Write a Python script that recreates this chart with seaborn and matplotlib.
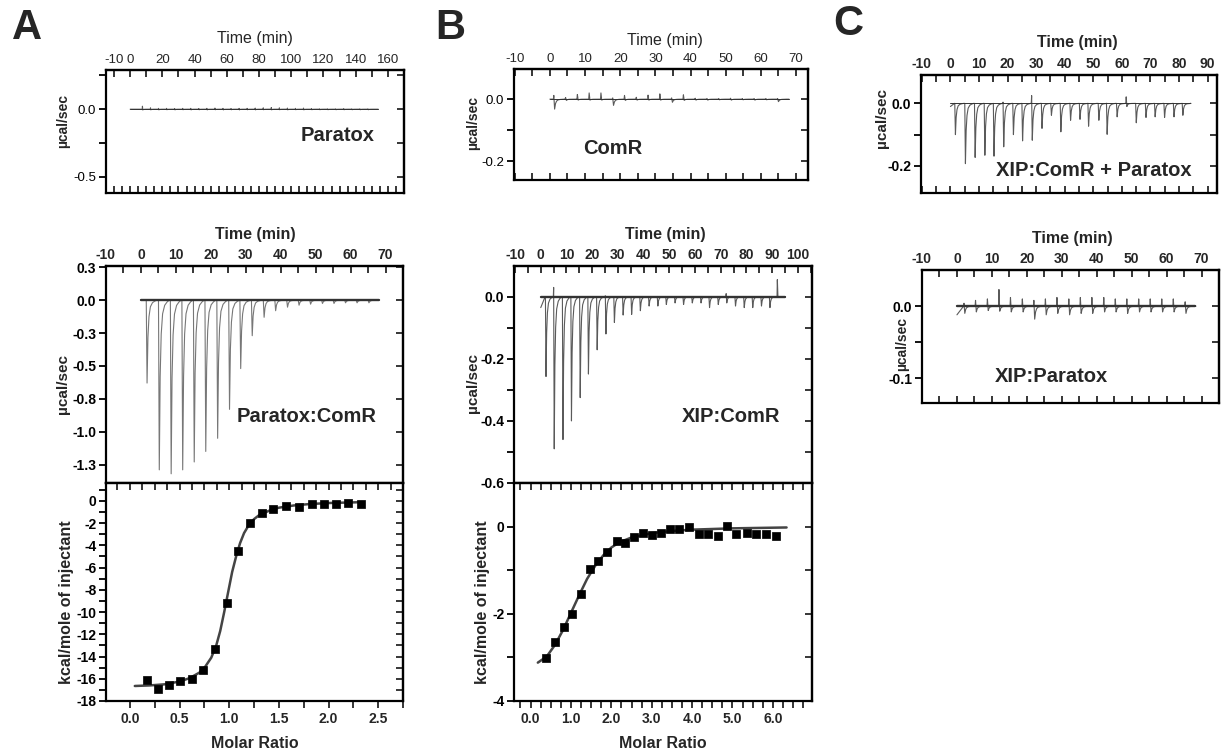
import numpy as np
import pandas as pd
import seaborn as sns
import matplotlib
matplotlib.use("Agg")
import matplotlib.pyplot as plt
from matplotlib.ticker import MultipleLocator, FixedLocator

sns.set_theme(style="ticks")
plt.rcParams["font.family"] = ["Liberation Sans", "DejaVu Sans"]

# ---------------- data ----------------
# Panel A, top: Paratox titrated into buffer (ucal/sec)
paratox_t = [7.5, 12.5, 17.5, 22.5, 27.5, 32.5, 37.5, 42.5, 47.5, 52.5, 57.5, 62.5, 67.5, 72.5, 77.5,
             82.5, 87.5, 92.5, 97.5, 102.5, 107.5, 112.5, 117.5, 122.5, 127.5, 132.5, 137.5, 142.5, 147.5]
paratox_up = [0.022, 0.01, 0.006, 0.006, 0.005, 0.006, 0.006, 0.005, 0.006, 0.008, 0.006, 0.005, 0.006, 0.006,
              0.008, 0.01, 0.012, 0.01, 0.008, 0.006, 0.008, 0.004, 0.003, 0.003, 0.003, 0.004, 0.003, 0.003, 0.003]
paratox_dn = [-0.006, -0.005, -0.005, -0.004, -0.005, -0.004, -0.005, -0.004, -0.005, -0.004, -0.005, -0.004,
              -0.005, -0.004, -0.005, -0.004, -0.005, -0.004, -0.005, -0.004, -0.005, -0.004, -0.004, -0.004,
              -0.004, -0.004, -0.004, -0.004, -0.004]

# Panel A, middle: Paratox into ComR
pc_t = [1.4, 4.9, 8.3, 11.6, 14.9, 18.2, 21.6, 25.0, 28.2, 31.5, 34.9, 38.2, 41.6, 44.9, 48.2, 51.6, 54.9,
        58.2, 61.5, 64.9]
pc_dn = [-0.63, -1.29, -1.32, -1.29, -1.23, -1.15, -1.05, -0.83, -0.52, -0.27, -0.13, -0.08, -0.053, -0.038,
         -0.03, -0.025, -0.025, -0.02, -0.02, -0.02]

# Panel A, bottom: integrated heats and fit
pc_ratio = [0.17, 0.28, 0.39, 0.51, 0.63, 0.74, 0.86, 0.98, 1.09, 1.21, 1.33, 1.44, 1.57, 1.70, 1.83, 1.95,
            2.08, 2.20, 2.33]
pc_heat = [-16.1, -16.9, -16.6, -16.2, -16.0, -15.2, -13.3, -9.2, -4.5, -2.0, -1.1, -0.78, -0.5, -0.55, -0.3,
           -0.33, -0.27, -0.22, -0.3]
pc_fit_x = [0.05, 0.2, 0.35, 0.5, 0.6, 0.7, 0.76, 0.82, 0.87, 0.91, 0.95, 0.99, 1.03, 1.07, 1.11, 1.15, 1.2,
            1.25, 1.3, 1.4, 1.5, 1.65, 1.8, 2.0, 2.35]
pc_fit_y = [-16.65, -16.6, -16.5, -16.25, -15.95, -15.45, -14.9, -14.1, -13.0, -11.7, -10.0, -8.2, -6.4, -5.0,
            -3.8, -2.9, -2.15, -1.65, -1.3, -0.9, -0.62, -0.42, -0.3, -0.2, -0.12]

# Panel B, top: ComR control
comr_t = [1.0, 4.35, 7.7, 11.05, 14.4, 17.75, 21.1, 24.45, 27.8, 31.15, 34.5, 37.85, 41.2, 44.55, 47.9, 51.25,
          54.6, 57.95, 61.3, 64.65]
comr_up = [0.012, 0.005, 0.015, 0.02, 0.02, 0.004, 0.012, 0.006, 0.013, 0.017, 0.004, 0.014, 0.003, 0.002,
           0.002, 0.003, 0.002, 0.002, 0.002, 0.002]
comr_dn = [-0.032, -0.004, -0.003, -0.003, -0.003, -0.02, -0.004, -0.003, -0.003, -0.003, -0.01, -0.004, -0.003,
           -0.003, -0.002, -0.003, -0.002, -0.003, -0.002, -0.008]

# Panel B, middle: XIP into ComR
xc_t = [1.7, 4.9, 8.3, 11.6, 15.0, 18.2, 21.6, 25.0, 28.3, 31.7, 35.0, 38.4, 41.8, 45.2, 48.5, 51.9, 55.2,
        58.6, 62.0, 65.3, 68.7, 72.0, 75.4, 78.8, 82.1, 85.5, 88.8, 91.9]
xc_dn = [-0.257, -0.49, -0.46, -0.40, -0.325, -0.249, -0.171, -0.12, -0.083, -0.059, -0.057, -0.045, -0.03,
         -0.03, -0.025, -0.02, -0.025, -0.02, -0.02, -0.035, -0.025, -0.02, -0.03, -0.035, -0.035, -0.03, -0.035,
         0.0]
xc_up = [0.0, 0.03, 0.0, 0.0, 0.0, 0.0, 0.0, 0.003, 0.0, 0.0, 0.0, 0.0, 0.0, 0.0, 0.0, 0.0, 0.0, 0.0, 0.0, 0.0,
         0.0, 0.01, 0.0, 0.0, 0.0, 0.0, 0.0, 0.055]

# Panel B, bottom: integrated heats and fit
xc_ratio = [0.39, 0.60, 0.82, 1.03, 1.25, 1.46, 1.68, 1.89, 2.13, 2.35, 2.57, 2.79, 3.01, 3.24, 3.46, 3.68,
            3.93, 4.16, 4.40, 4.63, 4.87, 5.10, 5.35, 5.58, 5.82, 6.07]
xc_heat = [-3.02, -2.64, -2.31, -2.0, -1.54, -0.98, -0.80, -0.58, -0.32, -0.37, -0.25, -0.14, -0.19, -0.15,
           -0.06, -0.05, -0.01, -0.18, -0.16, -0.22, 0.02, -0.18, -0.15, -0.18, -0.17, -0.21]
xc_fit_x = [0.18, 0.4, 0.6, 0.8, 1.0, 1.2, 1.4, 1.6, 1.8, 2.0, 2.2, 2.5, 3.0, 3.5, 4.0, 5.0, 6.34]
xc_fit_y = [-3.12, -2.98, -2.72, -2.38, -1.98, -1.58, -1.2, -0.9, -0.66, -0.48, -0.36, -0.25, -0.15, -0.1,
            -0.07, -0.04, -0.02]

# Panel C, top: XIP:ComR complex titrated with Paratox
xcp_t = [1.4, 4.9, 8.3, 11.7, 14.9, 18.3, 21.7, 24.9, 28.3, 31.7, 35.0, 38.3, 41.7, 45.0, 48.0, 51.6, 54.5,
         58.0, 61.4, 64.7, 68.1, 71.3, 74.6, 77.9, 81.0]
xcp_dn = [-0.10, -0.193, -0.173, -0.166, -0.169, -0.139, -0.10, -0.12, -0.118, -0.08, -0.038, -0.091, -0.054,
          -0.051, -0.073, -0.054, -0.099, -0.043, -0.01, -0.062, -0.045, -0.043, -0.045, -0.043, -0.038]
xcp_up = [0.0, 0.0, 0.0, 0.0, 0.0, 0.004, 0.0, 0.0, 0.025, 0.0, 0.0, 0.0, 0.0, 0.0, 0.0, 0.0, 0.0, 0.0, 0.021,
          0.0, 0.0, 0.0, 0.0, 0.0, 0.0]

# Panel C, bottom: XIP into Paratox
xp_t = [1.9, 5.2, 8.6, 11.9, 15.2, 18.6, 21.9, 25.2, 28.5, 31.9, 35.2, 38.5, 41.9, 45.2, 48.5, 51.9, 55.2,
        58.5, 61.8, 65.2]
xp_up = [0.004, 0.008, 0.01, 0.023, 0.012, 0.01, 0.008, 0.01, 0.012, 0.01, 0.012, 0.012, 0.012, 0.01, 0.01,
         0.01, 0.01, 0.01, 0.01, 0.006]
xp_dn = [-0.01, -0.008, -0.006, -0.007, -0.008, -0.008, -0.018, -0.012, -0.01, -0.012, -0.01, -0.01, -0.008,
         -0.008, -0.01, -0.008, -0.008, -0.008, -0.008, -0.01]

# shape of one injection peak (minutes after the injection, fraction of the spike / of the dip)
PEAK_OFF = [0.0, 0.12, 0.35, 0.6, 0.9, 1.3, 1.9, 2.6, 3.2]
PEAK_UP = [0, 1, 0, 0, 0, 0, 0, 0, 0]
PEAK_DN = [0, 0, 1, 0.45, 0.2, 0.08, 0.03, 0.01, 0]


def thermogram(times, dn, up=None, t_end=68.0, v_start=0.0):
    if up is None:
        up = [0.0] * len(times)
    t, v = [0.0], [v_start]
    for ti, d, u in zip(times, dn, up):
        for off, fu, fd in zip(PEAK_OFF, PEAK_UP, PEAK_DN):
            t.append(ti + off)
            v.append(u * fu + d * fd)
    t.append(t_end)
    v.append(0.0)
    return pd.DataFrame({"time": t, "power": v})


# ---------------- figure ----------------
W, H = 1221, 750
fig = plt.figure(figsize=(W / 100, H / 100), dpi=100)


def box(x0, y0, x1, y1):
    return [x0 / W, 1 - y1 / H, (x1 - x0) / W, (y1 - y0) / H]


def ftext(x, y, s, **kw):
    fig.text(x / W, 1 - y / H, s, ha="center", va="center", **kw)


def setup(ax, xlim, ylim, left, left_lab, left_minor, right_step, top=None, top_minor=5,
          bottom=None, bottom_minor=5, weight="bold", bottom_edge=True):
    ax.set_xlim(xlim)
    ax.set_ylim(ylim)
    ax.set_facecolor("white")
    for s in ax.spines.values():
        s.set_linewidth(1.6)
        s.set_color("black")
    fs = 10 if weight == "bold" else 9.5
    ax.set_yticks(left, left_lab, fontsize=fs, fontweight=weight)
    ax.yaxis.set_minor_locator(FixedLocator(left_minor))
    ax.tick_params(axis="y", which="both", direction="out", length=5, width=1.3, right=False, pad=2,
                   colors="black")
    ry = ax.secondary_yaxis("right")
    ry.yaxis.set_major_locator(MultipleLocator(right_step))
    ry.tick_params(direction="in", length=5, width=1.3, labelright=False)
    ry.spines["right"].set_linewidth(1.6)
    if bottom is not None:
        ax.set_xticks(bottom, [f"{b:.1f}" for b in bottom], fontsize=fs, fontweight=weight)
        ax.xaxis.set_minor_locator(MultipleLocator(bottom_minor))
        ax.tick_params(axis="x", which="both", direction="out", length=5, width=1.3, pad=3)
    else:
        ax.xaxis.set_major_locator(MultipleLocator(bottom_minor))
        ax.tick_params(axis="x", which="both", direction="in", length=5, width=1.3,
                       labelbottom=False, bottom=bottom_edge)
    tx = ax.secondary_xaxis("top")
    if top is not None:
        tx.set_xticks(top, [str(v) for v in top], fontsize=fs, fontweight=weight)
        tx.xaxis.set_minor_locator(MultipleLocator(top_minor))
        tx.tick_params(which="both", direction="in", length=5, width=1.3, pad=3)
    else:
        tx.xaxis.set_major_locator(MultipleLocator(top_minor))
        tx.tick_params(direction="in", length=5, width=1.3, labeltop=False)
    tx.spines["top"].set_linewidth(1.6)


def draw_trace(ax, df, t_end, thick=False, color="#5a5a5a"):
    sns.lineplot(data=df, x="time", y="power", ax=ax, sort=False, estimator=None,
                 color=color, lw=0.8)
    base = pd.DataFrame({"time": [0.0, t_end], "power": [0.0, 0.0]})
    sns.lineplot(data=base, x="time", y="power", ax=ax, sort=False, estimator=None,
                 color="#333333", lw=1.7 if thick else 0.7)
    ax.set_xlabel("")
    ax.set_ylabel("")


def draw_fit(ax, rx, hy, fx, fy):
    sns.lineplot(x=fx, y=fy, ax=ax, sort=False, estimator=None, color="#444444", lw=1.8)
    sns.scatterplot(x=rx, y=hy, ax=ax, marker="s", s=34, color="black", edgecolor="black", linewidth=0.5,
                    zorder=3)
    ax.set_xlabel("")
    ax.set_ylabel("")


# ---- Panel A ----
axA1 = fig.add_axes(box(106, 70, 404, 193))
draw_trace(axA1, thermogram(paratox_t, paratox_dn, paratox_up, 154), 154)
setup(axA1, (-15, 170), (-0.62, 0.29), [0, -0.5], ["0.0", "-0.5"], [0.25, -0.25], 0.25,
      top=[-10, 0, 20, 40, 60, 80, 100, 120, 140, 160], top_minor=10, bottom_minor=5, weight="normal")
axA1.text(0.777, 0.47, "Paratox", transform=axA1.transAxes, ha="center", va="center",
          fontsize=14.5, fontweight="bold")

axA2 = fig.add_axes(box(106, 266, 403, 483))
draw_trace(axA2, thermogram(pc_t, pc_dn, None, 68), 68, thick=True, color="#777777")
setup(axA2, (-10, 75), (-1.39, 0.26), [0.25, 0, -0.25, -0.5, -0.75, -1.0, -1.25],
      ["0.3", "0.0", "-0.3", "-0.5", "-0.8", "-1.0", "-1.3"], [], 0.25,
      top=[-10, 0, 10, 20, 30, 40, 50, 60, 70], top_minor=5, bottom_edge=False)
axA2.text(0.677, 0.305, "Paratox:ComR", transform=axA2.transAxes, ha="center", va="center",
          fontsize=14.5, fontweight="bold")

axA3 = fig.add_axes(box(106, 483, 403, 701))
draw_fit(axA3, pc_ratio, pc_heat, pc_fit_x, pc_fit_y)
setup(axA3, (-0.24, 2.75), (-18, 1.6), [0, -2, -4, -6, -8, -10, -12, -14, -16, -18],
      ["0", "-2", "-4", "-6", "-8", "-10", "-12", "-14", "-16", "-18"],
      [-1, -3, -5, -7, -9, -11, -13, -15, -17, 1], 1,
      top=None, top_minor=0.125, bottom=[0.0, 0.5, 1.0, 1.5, 2.0, 2.5], bottom_minor=0.25)

# ---- Panel B ----
axB1 = fig.add_axes(box(514, 69, 808, 180))
draw_trace(axB1, thermogram(comr_t, comr_dn, comr_up, 68), 68)
setup(axB1, (-10.2, 73.4), (-0.26, 0.097), [0, -0.2], ["0.0", "-0.2"], [-0.1], 0.1,
      top=[-10, 0, 10, 20, 30, 40, 50, 60, 70], top_minor=5, bottom_minor=5, weight="normal")
axB1.text(0.335, 0.286, "ComR", transform=axB1.transAxes, ha="center", va="center",
          fontsize=14.5, fontweight="bold")

axB2 = fig.add_axes(box(514, 266, 812, 483))
draw_trace(axB2, thermogram(xc_t, xc_dn, xc_up, 95, v_start=-0.035), 95, thick=True)
setup(axB2, (-10.4, 105.5), (-0.6, 0.099), [0, -0.2, -0.4, -0.6], ["0.0", "-0.2", "-0.4", "-0.6"],
      [-0.1, -0.3, -0.5], 0.1, top=[-10, 0, 10, 20, 30, 40, 50, 60, 70, 80, 90, 100], top_minor=5,
      bottom_edge=False)
axB2.text(0.728, 0.305, "XIP:ComR", transform=axB2.transAxes, ha="center", va="center",
          fontsize=14.5, fontweight="bold")

axB3 = fig.add_axes(box(514, 483, 812, 701))
draw_fit(axB3, xc_ratio, xc_heat, xc_fit_x, xc_fit_y)
setup(axB3, (-0.41, 6.97), (-4, 1.0), [0, -2, -4], ["0", "-2", "-4"], [-1, -3], 1,
      top=None, top_minor=0.25, bottom=[0.0, 1.0, 2.0, 3.0, 4.0, 5.0, 6.0], bottom_minor=0.25)

# ---- Panel C ----
axC1 = fig.add_axes(box(921, 75, 1217, 193))
draw_trace(axC1, thermogram(xcp_t, xcp_dn, xcp_up, 84, v_start=-0.01), 84)
setup(axC1, (-10.3, 93.3), (-0.287, 0.091), [0, -0.2], ["0.0", "-0.2"], [-0.1], 0.1,
      top=[-10, 0, 10, 20, 30, 40, 50, 60, 70, 80, 90], top_minor=5, bottom_minor=5)
axC1.text(0.583, 0.19, "XIP:ComR + Paratox", transform=axC1.transAxes, ha="center", va="center",
          fontsize=14.5, fontweight="bold")

axC2 = fig.add_axes(box(922, 270, 1219, 403))
draw_trace(axC2, thermogram(xp_t, xp_dn, xp_up, 68, v_start=-0.012), 68, thick=True)
setup(axC2, (-10, 75), (-0.134, 0.05), [0, -0.1], ["0.0", "-0.1"], [-0.05], 0.05,
      top=[-10, 0, 10, 20, 30, 40, 50, 60, 70], top_minor=5, bottom_minor=5)
axC2.text(0.437, 0.198, "XIP:Paratox", transform=axC2.transAxes, ha="center", va="center",
          fontsize=14.5, fontweight="bold")

# ---- shared labels ----
ftext(255, 39, "Time (min)", fontsize=11.5)
ftext(255, 235, "Time (min)", fontsize=11.5, fontweight="bold")
ftext(665, 40, "Time (min)", fontsize=11.5)
ftext(665, 235, "Time (min)", fontsize=11.5, fontweight="bold")
ftext(1077, 43, "Time (min)", fontsize=11.5, fontweight="bold")
ftext(1072, 238, "Time (min)", fontsize=11.5, fontweight="bold")
ftext(255, 743, "Molar Ratio", fontsize=11.5, fontweight="bold")
ftext(663, 743, "Molar Ratio", fontsize=11.5, fontweight="bold")

ftext(63, 121, "\u00b5cal/sec", fontsize=10, fontweight="bold", rotation=90)
ftext(63, 384, "\u00b5cal/sec", fontsize=11, fontweight="bold", rotation=90)
ftext(66, 602, "kcal/mole of injectant", fontsize=11.5, fontweight="bold", rotation=90)
ftext(473, 123, "\u00b5cal/sec", fontsize=10, fontweight="bold", rotation=90)
ftext(473, 383, "\u00b5cal/sec", fontsize=11, fontweight="bold", rotation=90)
ftext(483, 602, "kcal/mole of injectant", fontsize=11.5, fontweight="bold", rotation=90)
ftext(882, 118, "\u00b5cal/sec", fontsize=11, fontweight="bold", rotation=90)
ftext(902, 344, "\u00b5cal/sec", fontsize=10, fontweight="bold", rotation=90)

ftext(27, 28, "A", fontsize=30, fontweight="bold")
ftext(450, 28, "B", fontsize=30, fontweight="bold")
ftext(848, 24, "C", fontsize=30, fontweight="bold")

fig.savefig("out.png", dpi=100, facecolor="white")
